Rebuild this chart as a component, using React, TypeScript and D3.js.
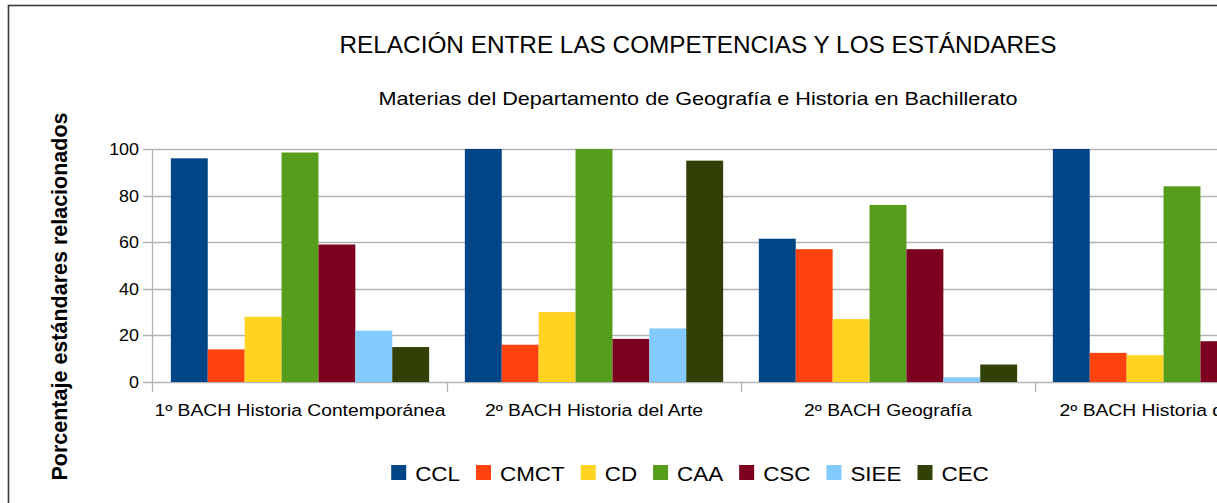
import React, { useEffect, useRef } from "react";
import * as d3 from "d3";

const categories = [
  "1º BACH Historia Contemporánea",
  "2º BACH Historia del Arte",
  "2º BACH Geografía",
  "2º BACH Historia de España",
];
const seriesNames = ["CCL", "CMCT", "CD", "CAA", "CSC", "SIEE", "CEC"];
const seriesColors = ["#004586", "#ff420e", "#ffd320", "#579d1c", "#7e0021", "#83caff", "#314004"];
const CCL = [96, 100, 61.5, 100];
const CMCT = [14, 16, 57, 12.5];
const CD = [28, 30, 27, 11.5];
const CAA = [98.5, 100, 76, 84];
const CSC = [59, 18.5, 57, 17.5];
const SIEE = [22, 23, 2, 10];
const CEC = [15, 95, 7.5, 60];
const seriesValues = [CCL, CMCT, CD, CAA, CSC, SIEE, CEC];
const yTicks = [0, 20, 40, 60, 80, 100];

const title = "RELACIÓN ENTRE LAS COMPETENCIAS Y LOS ESTÁNDARES";
const subtitle = "Materias del Departamento de Geografía e Historia en Bachillerato";
const yTitle = "Porcentaje estándares relacionados";

const W = 1217;
const H = 503;
const SX = 1.12;
const FONT = "'Liberation Sans', Arial, sans-serif";

export default function App() {
  const ref = useRef<SVGSVGElement | null>(null);

  useEffect(() => {
    const svg = d3.select(ref.current);
    svg.selectAll("*").remove();

    const plotLeft = 153;
    const step = 294;
    const plotTop = 149;
    const plotBottom = 382;

    const x = d3
      .scaleBand<string>()
      .domain(categories)
      .range([plotLeft, plotLeft + step * categories.length])
      .padding(0);
    const xi = d3
      .scaleBand<string>()
      .domain(seriesNames)
      .range([0, x.bandwidth()])
      .paddingInner(0)
      .paddingOuter(0.484);
    const y = d3.scaleLinear().domain([0, 100]).range([plotBottom, plotTop]);

    // outer border
    svg
      .append("rect")
      .attr("x", 8.5)
      .attr("y", 5.5)
      .attr("width", 1380)
      .attr("height", 540)
      .attr("fill", "#fff")
      .attr("stroke", "#3a3a3a")
      .attr("stroke-width", 1.6);

    const scaledText = (
      g: any,
      tx: number,
      ty: number,
      txt: string,
      size: number,
      anchor: string,
      sx: number = SX,
      weight = "normal"
    ) =>
      g
        .append("text")
        .attr("transform", `translate(${tx},${ty}) scale(${sx},1)`)
        .attr("text-anchor", anchor)
        .attr("font-family", FONT)
        .attr("font-size", size)
        .attr("font-weight", weight)
        .attr("fill", "#000")
        .text(txt);

    const fitText = (sel: any, tx: number, ty: number, target: number) => {
      const w = (sel.node() as SVGTextElement).getComputedTextLength();
      const sx = target / w;
      sel.attr("transform", `translate(${tx},${ty}) scale(${sx},1)`);
      return sx;
    };

    // titles
    fitText(scaledText(svg, 698, 53, title, 24, "middle"), 698, 53, 717);
    fitText(scaledText(svg, 698, 105, subtitle, 17.5, "middle"), 698, 105, 639);

    // y-axis title
    svg
      .append("text")
      .attr("transform", `translate(67,296.5) rotate(-90)`)
      .attr("text-anchor", "middle")
      .attr("font-family", FONT)
      .attr("font-size", 21.5)
      .attr("font-weight", "bold")
      .attr("fill", "#000")
      .text(yTitle);

    // gridlines + y ticks
    const gridRight = plotLeft + step * categories.length;
    yTicks.forEach((t) => {
      svg
        .append("line")
        .attr("x1", 143)
        .attr("x2", gridRight)
        .attr("y1", Math.round(y(t)) + 0.5)
        .attr("y2", Math.round(y(t)) + 0.5)
        .attr("stroke", "#b3b3b3")
        .attr("stroke-width", 1.3);
      scaledText(svg, 139, y(t) + 6, String(t), 16, "end");
    });

    // y axis line
    svg
      .append("line")
      .attr("x1", plotLeft - 0.5)
      .attr("x2", plotLeft - 0.5)
      .attr("y1", plotTop)
      .attr("y2", plotBottom + 10)
      .attr("stroke", "#b3b3b3")
      .attr("stroke-width", 1.3);

    // category ticks
    categories.forEach((c, i) => {
      if (i === 0) return;
      const xx = (x(c) as number) + 0.5;
      svg
        .append("line")
        .attr("x1", xx)
        .attr("x2", xx)
        .attr("y1", plotBottom)
        .attr("y2", plotBottom + 10)
        .attr("stroke", "#b3b3b3")
        .attr("stroke-width", 1.3);
    });

    // bars
    seriesNames.forEach((s, si) => {
      svg
        .append("g")
        .selectAll("rect")
        .data(categories.map((c, ci) => ({ c, v: seriesValues[si][ci] })))
        .join("rect")
        .attr("x", (d: any) => (x(d.c) as number) + (xi(s) as number))
        .attr("y", (d: any) => y(d.v))
        .attr("width", xi.bandwidth())
        .attr("height", (d: any) => y(0) - y(d.v))
        .attr("fill", seriesColors[si]);
    });

    // category labels
    let catSx = SX;
    categories.forEach((c, i) => {
      const cxx = (x(c) as number) + x.bandwidth() / 2;
      const t = scaledText(svg, cxx, 416, c, 16.5, "middle", catSx);
      if (i === 0) catSx = fitText(t, cxx, 416, 291);
    });

    // legend
    const legendG = svg.append("g");
    const sq = 15;
    const gapText = 9;
    const gapItem = 16;
    const items: { w: number; node: any; rect: any }[] = [];
    seriesNames.forEach((s, si) => {
      const rect = legendG
        .append("rect")
        .attr("width", sq)
        .attr("height", sq)
        .attr("y", 465)
        .attr("fill", seriesColors[si]);
      const t = legendG
        .append("text")
        .attr("font-family", FONT)
        .attr("font-size", 20)
        .attr("fill", "#000")
        .text(s);
      const tw = (t.node() as SVGTextElement).getComputedTextLength() * SX;
      items.push({ w: tw, node: t, rect });
    });
    const total =
      items.reduce((a, it) => a + sq + gapText + it.w, 0) + gapItem * (items.length - 1);
    let cx = 690 - total / 2;
    items.forEach((it) => {
      it.rect.attr("x", cx);
      it.node.attr("transform", `translate(${cx + sq + gapText},481) scale(${SX},1)`);
      cx += sq + gapText + it.w + gapItem;
    });
  }, []);

  return (
    <svg
      ref={ref}
      width={W}
      height={H}
      style={{ position: "absolute", left: 0, top: 0, overflow: "hidden", background: "#fff" }}
    />
  );
}
